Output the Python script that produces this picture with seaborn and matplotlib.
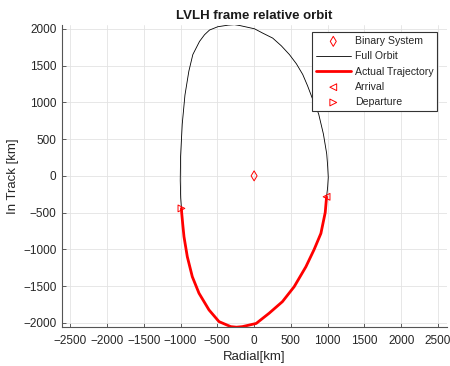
import matplotlib
matplotlib.use("Agg")
import matplotlib.pyplot as plt
import seaborn as sns
import pandas as pd

# Relative orbit points (km), starting at departure
orbit_radial = [-988, -985, -970, -953, -908, -840, -749, -613, -477, -318, -240, -159,
                28, 204, 385, 545, 704, 817, 908, 967, 985,
                1000, 1008, 1000, 987, 942, 878, 835, 788, 727, 661, 575, 480, 370, 253, 117,
                5, -199, -267, -350, -493, -606, -674, -742, -833, -887, -940, -977,
                -1000, -1004, -998, -988]
orbit_track = [-443, -497, -660, -829, -1101, -1373, -1598, -1825, -1984, -2052, -2060, -2052,
               -2009, -1870, -1712, -1508, -1237, -1000, -783, -497, -285,
               -150, -20, 130, 299, 569, 840, 955, 1064, 1225, 1380, 1525, 1651, 1770, 1875, 1943,
               2002, 2047, 2058, 2052, 2030, 1985, 1921, 1830, 1651, 1425, 1100, 704,
               253, -62, -300, -443]
n_traj = 21  # number of orbit points making up the actual trajectory

binary_xy = (0, 0)
arrival_xy = (985, -285)
departure_xy = (-988, -443)

x_ticks = list(range(-2500, 2501, 500))
y_ticks = list(range(-2000, 2001, 500))

sns.set_style("whitegrid")
plt.rcParams['font.family'] = ['Liberation Sans', 'DejaVu Sans']

fig = plt.figure(figsize=(4.5, 3.66), dpi=100)
ax = fig.add_axes([0.138, 0.107, 0.855, 0.825])

orbit = pd.DataFrame({"r": orbit_radial, "t": orbit_track})
traj = orbit.iloc[:n_traj]

red = "#ff0000"
sns.scatterplot(x=[binary_xy[0]], y=[binary_xy[1]], marker="d", s=26,
                facecolor="none", edgecolor=red, linewidth=0.7,
                label="Binary System", ax=ax, zorder=5)
sns.lineplot(data=orbit, x="r", y="t", sort=False, estimator=None,
             color="black", linewidth=0.6, label="Full Orbit", ax=ax)
sns.lineplot(data=traj, x="r", y="t", sort=False, estimator=None,
             color=red, linewidth=2.0, label="Actual Trajectory", ax=ax)
sns.scatterplot(x=[arrival_xy[0]], y=[arrival_xy[1]], marker="<", s=24,
                facecolor="none", edgecolor=red, linewidth=0.7,
                label="Arrival", ax=ax, zorder=5)
sns.scatterplot(x=[departure_xy[0]], y=[departure_xy[1]], marker=">", s=24,
                facecolor="none", edgecolor=red, linewidth=0.7,
                label="Departure", ax=ax, zorder=5)

ax.set_xlim(-2610, 2620)
ax.set_ylim(-2055, 2055)
ax.set_xticks(x_ticks)
ax.set_yticks(y_ticks)
ax.tick_params(axis="both", direction="in", length=3, width=0.6,
               labelsize=8.5, labelcolor="#262626", color="#444444",
               left=True, bottom=True)
ax.tick_params(axis="x", pad=6)
ax.tick_params(axis="y", pad=4)
ax.grid(True, color="#e3e3e3", linewidth=0.6)
for side in ["top", "right"]:
    ax.spines[side].set_visible(False)
for side in ["left", "bottom"]:
    ax.spines[side].set_color("#555555")
    ax.spines[side].set_linewidth(0.8)

ax.set_xlabel("Radial[km]", fontsize=9.5, color="#262626", labelpad=3)
ax.set_ylabel("In Track [km]", fontsize=9.5, color="#262626", labelpad=3)
ax.set_title("LVLH frame relative orbit", fontsize=9.5, fontweight="bold",
             color="#1a1a1a", pad=4)

leg = ax.legend(loc="upper right", bbox_to_anchor=(0.975, 0.975),
                borderaxespad=0, fontsize=7.6, frameon=True, fancybox=False,
                framealpha=1, edgecolor="#333333", handlelength=3.3,
                handletextpad=0.4, borderpad=0.35, labelspacing=0.5)
leg.get_frame().set_linewidth(0.8)
for t in leg.get_texts():
    t.set_color("#262626")

fig.savefig("out.png", dpi=100)
